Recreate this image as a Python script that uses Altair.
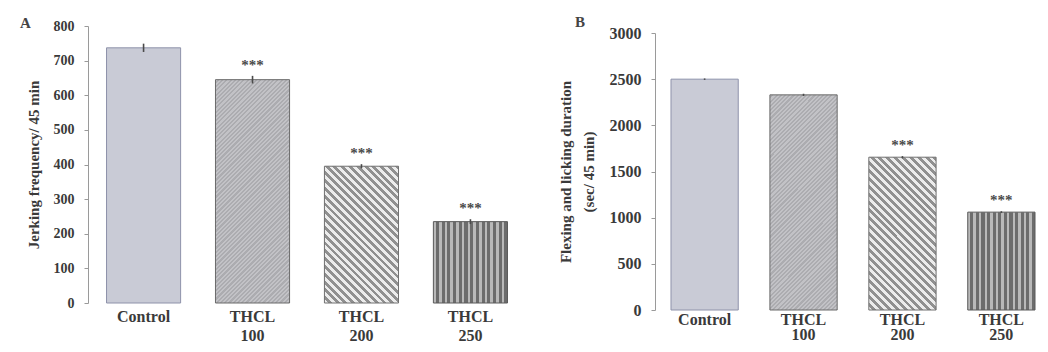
import math
import altair as alt
import pandas as pd

# ---------------- data ----------------
groups = ["Control", "THCL 100", "THCL 200", "THCL 250"]

jerk_mean = [737, 645, 395, 235]
jerk_err = [12, 11, 6, 7]
jerk_sig = ["", "***", "***", "***"]

flex_mean = [2500, 2330, 1655, 1060]
flex_err = [8, 12, 12, 10]
flex_sig = ["", "", "***", "***"]

jerk_ticks = [0, 100, 200, 300, 400, 500, 600, 700, 800]
flex_ticks = [0, 500, 1000, 1500, 2000, 2500, 3000]

# ---------------- style ----------------
SERIF = "Liberation Serif"
TXT = "#3a3a3a"
PLOT_H = 277


def stops_alternating(n, c_light, c_dark, frac_light):
    st = []
    for i in range(n):
        a = i / n
        b = (i + frac_light) / n
        c = (i + 1) / n
        st += [alt.GradientStop(offset=a, color=c_light),
               alt.GradientStop(offset=b, color=c_light),
               alt.GradientStop(offset=b, color=c_dark),
               alt.GradientStop(offset=c, color=c_dark)]
    return st


def vertical_stripes(w, period, c_light, c_dark, frac_light):
    n = max(1, round(w / period))
    return alt.Gradient(gradient="linear", x1=0, y1=0, x2=1, y2=0,
                        stops=stops_alternating(n, c_light, c_dark, frac_light))


def diag_stripes(w, h, period, c_light, c_dark, frac_light, up=False):
    r = w / h
    s = (r + 1) / (r * r + 1)
    n = max(1, round((w + h) / math.sqrt(2) / period))
    if up:
        return alt.Gradient(gradient="linear", x1=0, y1=0, x2=s * r, y2=s,
                            stops=stops_alternating(n, c_light, c_dark, frac_light))
    return alt.Gradient(gradient="linear", x1=0, y1=1, x2=s * r, y2=1 - s,
                        stops=stops_alternating(n, c_light, c_dark, frac_light))


def panel(means, errs, sigs, ticks, width, ytitle, letter, xscale, bw, y_shift,
          tick_font, label_pad, title_pad, title_lh, title_dx, title_dy,
          xlab_pad, xlab_lh):
    ymax = ticks[-1]
    h100 = means[1] / ymax * PLOT_H
    h200 = means[2] / ymax * PLOT_H

    fills = [
        "#c9cbd6",
        diag_stripes(bw, h100, 3.0, "#c2c2c6", "#acacb0", 0.5, up=True),
        diag_stripes(bw, h200, 5.5, "#ececec", "#909090", 0.5),
        vertical_stripes(bw, 5.6, "#b9b9b9", "#6c6c6c", 0.45),
    ]
    strokes = ["#8e92aa", "#6a6a6a", "#707070", "#5a5a5a"]

    df = pd.DataFrame({
        "group": groups,
        "mean": means,
        "lo": [m - e for m, e in zip(means, errs)],
        "hi": [m + e for m, e in zip(means, errs)],
        "sig": sigs,
    })

    x_enc = alt.X(
        "group:N", sort=groups, scale=xscale,
        axis=alt.Axis(title=None, labelAngle=0, domain=False, ticks=False,
                      labelFont=SERIF, labelFontWeight="bold", labelFontSize=16,
                      labelColor=TXT, labelPadding=xlab_pad, labelLineHeight=xlab_lh,
                      labelExpr="split(datum.label, ' ')"),
    )

    def y_enc(field):
        return alt.Y(
            f"{field}:Q",
            scale=alt.Scale(domain=[0, ymax], nice=False, zero=True,
                            range=[PLOT_H + y_shift, y_shift]),
            axis=alt.Axis(values=ticks, grid=False, title=ytitle, format="d",
                          domainColor="#9a9a9a", tickColor="#9a9a9a", tickSize=4,
                          labelFont=SERIF, labelFontWeight="bold",
                          labelFontSize=tick_font, labelColor=TXT,
                          labelPadding=label_pad,
                          titleFont=SERIF, titleFontWeight="bold", titleFontSize=15,
                          titleColor=TXT, titlePadding=title_pad,
                          titleLineHeight=title_lh),
        )

    base = alt.Chart(df)
    layers = []
    for i, g in enumerate(groups):
        layers.append(
            base.transform_filter(alt.datum.group == g)
            .mark_bar(fill=fills[i], stroke=strokes[i], strokeWidth=1)
            .encode(x=x_enc, y=y_enc("mean"))
        )
    err = base.mark_rule(color="#4a4a4a", strokeWidth=1.6).encode(
        x=x_enc, y=y_enc("lo"), y2="hi:Q")
    stars = base.mark_text(dy=-6, baseline="alphabetic", font=SERIF,
                           fontWeight="bold", fontSize=15, color="#4a4a4a").encode(
        x=x_enc, y=y_enc("hi"), text="sig:N")

    return alt.layer(*layers, err, stars).properties(
        width=width, height=PLOT_H + y_shift,
        title=alt.TitleParams(letter, anchor="start", frame="bounds", font=SERIF,
                              fontSize=15, fontWeight="bold", color="#444",
                              offset=0, dx=title_dx, dy=title_dy),
    )


# panel A: symmetric band padding
a_width = 438
a_step = a_width / (4 - 0.32 + 2 * 0.17)
panel_a = panel(jerk_mean, jerk_err, jerk_sig, jerk_ticks, a_width,
                "Jerking frequency/ 45 min", "A",
                alt.Scale(paddingInner=0.32, paddingOuter=0.17),
                a_step * 0.68, 0,
                tick_font=14, label_pad=10, title_pad=12, title_lh=21,
                title_dx=-6, title_dy=12,
                xlab_pad=5, xlab_lh=19)

# panel B: the right edge is cropped in the original, so outer padding only on the left
b_step = 99
b_width = int(b_step * (4 - 0.32) + 16)
panel_b = panel(flex_mean, flex_err, flex_sig, flex_ticks, b_width,
                ["Flexing and licking duration", "(sec/ 45 min)"], "B",
                alt.Scale(paddingInner=0.32, paddingOuter=16 / (2 * b_step), align=1),
                b_step * 0.68, 7,
                tick_font=16, label_pad=10, title_pad=13, title_lh=23,
                title_dx=17, title_dy=5,
                xlab_pad=1, xlab_lh=15)

chart = alt.hconcat(panel_a, panel_b, spacing=32).configure_view(
    stroke=None).properties(padding={"left": 12, "top": 7, "right": 0, "bottom": 0})

chart.save("out.html", embed_options={"renderer": "svg", "actions": False})
